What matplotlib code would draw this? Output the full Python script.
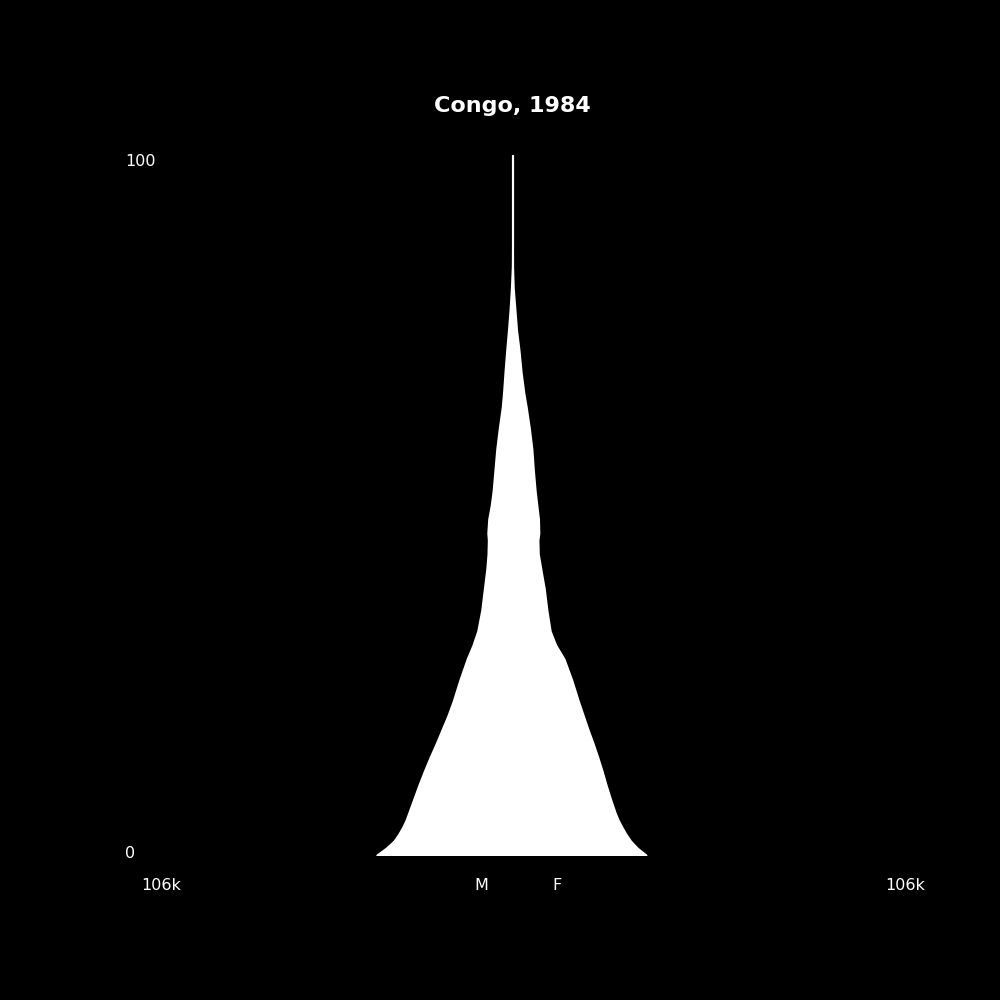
import matplotlib.pyplot as plt

# edades y poblacion (miles) por sexo, Congo 1984
ages = [0, 1, 2, 3, 4, 5, 6, 8, 10, 12, 14, 16, 18, 20, 22, 25, 28, 30, 32, 35, 38,
        41, 43, 45, 46, 48, 50, 52, 55, 58, 61, 64, 66, 69, 72, 75, 78, 81, 84, 87, 100]
male = [37.1, 34.5, 32.4, 31.1, 30.0, 29.1, 28.4, 27.0, 25.6, 24.1, 22.5, 20.8, 19.2,
        17.6, 16.2, 14.4, 12.4, 10.8, 9.5, 8.4, 7.7, 7.0, 6.7, 6.6, 6.75, 6.5, 5.8,
        5.3, 4.8, 4.3, 3.6, 2.8, 2.45, 2.05, 1.6, 1.1, 0.65, 0.3, 0.05, 0.0, 0.0]
female = [36.5, 34.1, 32.3, 31.0, 29.9, 28.9, 28.1, 26.8, 25.6, 24.5, 23.3, 22.0, 20.6,
          19.3, 18.0, 16.2, 14.1, 11.8, 10.3, 9.4, 8.7, 7.7, 7.05, 6.95, 7.2, 7.1, 6.65,
          6.2, 5.7, 5.3, 4.6, 3.75, 3.1, 2.35, 1.8, 1.1, 0.65, 0.2, 0.02, 0.0, 0.0]
xmax = 106

fig = plt.figure(figsize=(10, 10), dpi=100, facecolor='black')
ax = fig.add_axes([0.125, 0.145, 0.775, 0.70])
ax.set_facecolor('black')
ax.fill_betweenx(ages, [-m for m in male], female, color='white', edgecolor='white',
                 linewidth=1.5, joinstyle='round')
ax.set_xlim(-xmax, xmax)
ax.set_ylim(0, 100)
ax.axis('off')

fig.text(0.512, 0.894, 'Congo, 1984', color='white', fontsize=16, fontweight='bold', ha='center', va='center')
fig.text(0.125, 0.838, '100', color='white', fontsize=11.5, ha='left', va='center')
fig.text(0.125, 0.146, '0', color='white', fontsize=11.5, ha='left', va='center')
fig.text(0.161, 0.115, '106k', color='white', fontsize=11.5, ha='center', va='center')
fig.text(0.905, 0.115, '106k', color='white', fontsize=11.5, ha='center', va='center')
fig.text(0.481, 0.115, 'M', color='white', fontsize=11.5, ha='center', va='center')
fig.text(0.557, 0.115, 'F', color='white', fontsize=11.5, ha='center', va='center')

plt.savefig('out.png', dpi=100, facecolor='black')
